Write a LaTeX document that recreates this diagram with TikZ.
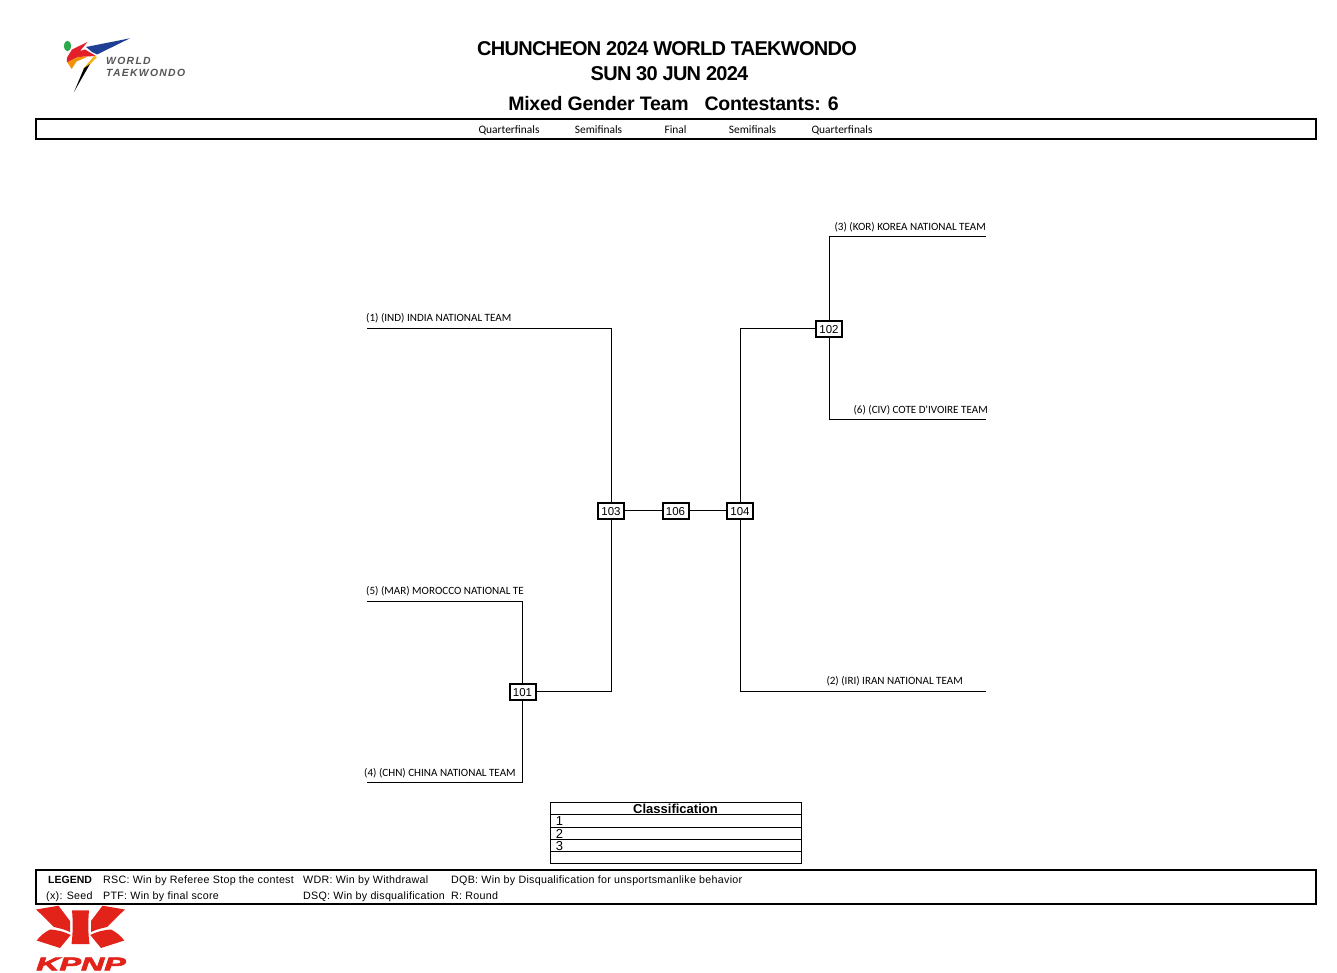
\documentclass[tikz,border=0pt]{standalone}
\usepackage{fontspec}
\setmainfont{Liberation Sans}
\newfontfamily\calfont{Carlito}
\newfontfamily\titlefont{Liberation Sans}[LetterSpace=-3.6]
\newfontfamily\eventfont{Liberation Sans}[LetterSpace=-1.3]
\newfontfamily\legendfont{Liberation Sans}[LetterSpace=2.6]
\newfontfamily\logofont{Liberation Sans}[LetterSpace=12.5]
\newfontfamily\kpnpfont{Liberation Sans}[BoldItalicFeatures={FakeBold=3}]
\definecolor{kpnpred}{HTML}{E2231A}
\definecolor{logoblue}{HTML}{1F3F94}
\definecolor{logored}{HTML}{E3202A}
\definecolor{logoorange}{HTML}{F39200}
\definecolor{logoyellow}{HTML}{F6B21B}
\definecolor{logogreen}{HTML}{2DA84A}
\definecolor{logogrey}{HTML}{555555}
\tikzset{
  matchbox/.style={draw=black,line width=2pt,fill=white,minimum width=26pt,minimum height=16pt,inner sep=0pt,text height=9.5pt,font=\fontsize{11.5}{11}\selectfont},
  teamlabel/.style={font=\calfont\fontsize{11.1}{12}\selectfont,inner sep=0pt},
  roundlabel/.style={font=\calfont\fontsize{11.4}{12}\selectfont,inner sep=0pt,anchor=base},
  titlelabel/.style={font=\titlefont\bfseries\fontsize{20}{20}\selectfont,inner sep=0pt},
  eventlabel/.style={font=\eventfont\bfseries\fontsize{19.5}{20}\selectfont,inner sep=0pt},
  legendlabel/.style={font=\legendfont\fontsize{10.7}{11}\selectfont,inner sep=0pt,anchor=base west},
  logolabel/.style={font=\logofont\bfseries\itshape\fontsize{10.4}{10}\selectfont,text=logogrey,inner sep=0pt,anchor=west},
  placelabel/.style={font=\fontsize{13}{13}\selectfont,inner sep=0pt},
  wire/.style={draw=black,line width=0.9pt},
  framebox/.style={draw=black,line width=1.8pt},
  tablebox/.style={draw=black,line width=0.8pt},
}
\begin{document}
\begin{tikzpicture}[x=1pt,y=-1pt]
\useasboundingbox (0,0) rectangle (1337,973);
% logo top left
\fill[logogreen] (67.5,46) ellipse (3.7pt and 5.2pt);
\fill[logoblue] (130,38.3) -- (86,47) -- (92,52) -- (97,54.5) -- cycle;
\fill[logored] (87.5,42) -- (72,49.5) -- (66.8,58) -- (67,62.5) -- (78,57) -- (96,56) -- (85,49.5) -- (80,51) -- cycle;
\fill[logoorange] (67.5,62.5) -- (71.7,69) -- (76.5,61.5) -- (88,56.5) -- (78,57) -- cycle;
\fill[logoyellow] (94,56) -- (83,69) -- (89,65.5) -- (97,57) -- cycle;
\fill[black] (84,68.3) -- (90,64) -- (74,92) -- cycle;
\node[logolabel] (logoa) at (106,61) {WORLD};
\node[logolabel] (logob) at (106,73) {TAEKWONDO};
% header
\node[titlelabel] (title) at (667,48.4) {CHUNCHEON 2024 WORLD TAEKWONDO};
\node[titlelabel] (date) at (669.5,73.4) {SUN 30 JUN 2024};
\node[eventlabel] (event) at (673.5,104) {Mixed Gender Team\hspace{16pt}Contestants: 6};
\draw[framebox] (36,119) rectangle (1316,139);
\node[roundlabel] (r1) at (509,133.6) {Quarterfinals};
\node[roundlabel] (r2) at (598.5,133.6) {Semifinals};
\node[roundlabel] (r3) at (675.5,133.6) {Final};
\node[roundlabel] (r4) at (752.5,133.6) {Semifinals};
\node[roundlabel] (r5) at (842,133.6) {Quarterfinals};
% free ends of the team lines
\coordinate (ind) at (367,328);
\coordinate (mar) at (367,601);
\coordinate (chn) at (367,782);
\coordinate (kor) at (986,236);
\coordinate (civ) at (986,419);
\coordinate (iri) at (986,691);
% matches
\node[matchbox] (m103) at (611,510.5) {103};
\node[matchbox] (m106) at (675.5,510.5) {106};
\node[matchbox] (m104) at (740,510.5) {104};
\node[matchbox] (m101) at (522.5,691.5) {101};
\node[matchbox] (m102) at (829,328.5) {102};
\draw[wire] (ind) -| (m103);
\draw[wire] (mar) -| (m101);
\draw[wire] (chn) -| (m101);
\draw[wire] (m101) -| (m103);
\draw[wire] (m103) -- (m106);
\draw[wire] (m106) -- (m104);
\draw[wire] (m102) -| (m104);
\draw[wire] (iri) -| (m104);
\draw[wire] (kor) -| (m102);
\draw[wire] (civ) -| (m102);
% team names
\node[teamlabel,anchor=west] (tind) at (366,318) {(1) (IND) INDIA NATIONAL TEAM};
\node[teamlabel,anchor=west] (tmar) at (366,591) {(5) (MAR) MOROCCO NATIONAL TE};
\node[teamlabel,anchor=west] (tchn) at (364,773) {(4) (CHN) CHINA NATIONAL TEAM};
\node[teamlabel,anchor=east] (tkor) at (986,227) {(3) (KOR) KOREA NATIONAL TEAM};
\node[teamlabel,anchor=east] (tciv) at (988,410) {(6) (CIV) COTE D'IVOIRE TEAM};
\node[teamlabel,anchor=east] (tiri) at (963,681) {(2) (IRI) IRAN NATIONAL TEAM};
% classification
\draw[tablebox] (550.5,802.5) rectangle (801.5,863);
\draw[tablebox] (550.5,814.5) -- (801.5,814.5);
\draw[tablebox] (550.5,827) -- (801.5,827);
\draw[tablebox] (550.5,839) -- (801.5,839);
\draw[tablebox] (550.5,851.5) -- (801.5,851.5);
\node[font=\bfseries\fontsize{13}{13}\selectfont,inner sep=0pt] (ctitle) at (675.5,809) {Classification};
\node[placelabel] (c1) at (559.5,821) {1};
\node[placelabel] (c2) at (559.5,834) {2};
\node[placelabel] (c3) at (559.5,846) {3};
% legend
\draw[framebox] (36,870) rectangle (1316,904);
\node[legendlabel,font=\bfseries\fontsize{10.5}{11}\selectfont] (l1) at (48,883.5) {LEGEND};
\node[legendlabel] (l2) at (46,899.5) {(x): Seed};
\node[legendlabel] (l3) at (103,883.5) {RSC: Win by Referee Stop the contest};
\node[legendlabel] (l4) at (103,899.5) {PTF: Win by final score};
\node[legendlabel] (l5) at (303,883.5) {WDR: Win by Withdrawal};
\node[legendlabel] (l6) at (303,899.5) {DSQ: Win by disqualification};
\node[legendlabel] (l7) at (451,883.5) {DQB: Win by Disqualification for unsportsmanlike behavior};
\node[legendlabel] (l8) at (451,899.5) {R: Round};
% logo bottom left
\fill[kpnpred] (36,909.5) -- (58.5,905.7) -- (70,921) -- (70,932) .. controls (64,929) and (58,928) .. (54,927) .. controls (48,921) and (42,915) .. (36,909.5) -- cycle;
\fill[kpnpred] (125,909.5) -- (102.5,905.7) -- (91,921) -- (91,932) .. controls (97,929) and (103,928) .. (107,927) .. controls (113,921) and (119,915) .. (125,909.5) -- cycle;
\fill[kpnpred] (36.7,940.5) .. controls (40,936) and (45,932) .. (50,929.5) .. controls (58,930) and (65,932) .. (70.7,935) -- (60,948) -- cycle;
\fill[kpnpred] (124.3,940.5) .. controls (121,936) and (116,932) .. (111,929.5) .. controls (103,930) and (96,932) .. (90.3,935) -- (101,948) -- cycle;
\fill[kpnpred] (72,910.3) -- (89,910.3) .. controls (88,921) and (88,933) .. (89.5,944) -- (71.5,944) .. controls (73,933) and (73,921) .. (72,910.3) -- cycle;
\node[font=\kpnpfont\bfseries\itshape\fontsize{18.5}{19}\selectfont,text=kpnpred,inner sep=0pt,xscale=1.74] (kpnp) at (81,964) {KPNP};
\end{tikzpicture}
\end{document}
